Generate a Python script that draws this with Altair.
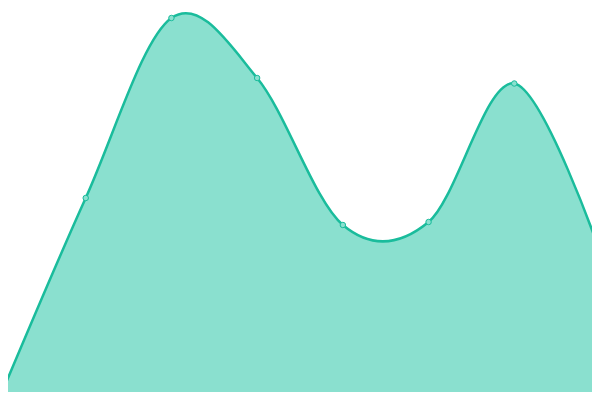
import altair as alt
import pandas as pd

# evenly spaced categories (index positions) and series heights
idx = [0, 1, 2, 3, 4, 5, 6, 7]
values = [3, 202, 382, 322, 175, 178, 316.5, 148]

df = pd.DataFrame({"i": idx, "v": values})

STEP = 600 / 7.0
W, H = 584, 384
xscale = alt.Scale(domain=[8 / STEP, (8 + W) / STEP], nice=False, zero=False)
yscale = alt.Scale(domain=[400 - 8 - H, 392], nice=False, zero=False)

base = alt.Chart(df).encode(
    x=alt.X("i:Q", scale=xscale, axis=None),
    y=alt.Y("v:Q", scale=yscale, axis=None),
)

area = base.mark_area(
    interpolate="cardinal",
    color="#8ae0cf",
    opacity=1,
    clip=True,
    line={"color": "#1abc9c", "strokeWidth": 2.5},
).encode(y2=alt.Y2(datum=0))

pts = base.mark_point(
    filled=True,
    fill="#8ae0cf",
    stroke="#1abc9c",
    strokeWidth=1,
    size=30,
    opacity=1,
    clip=True,
)

chart = (
    alt.layer(area, pts)
    .properties(width=W, height=H, padding=0, autosize=alt.AutoSizeParams(type="none"))
    .configure_view(stroke=None)
)

chart.save("out.html", embed_options={"renderer": "svg", "actions": False})
